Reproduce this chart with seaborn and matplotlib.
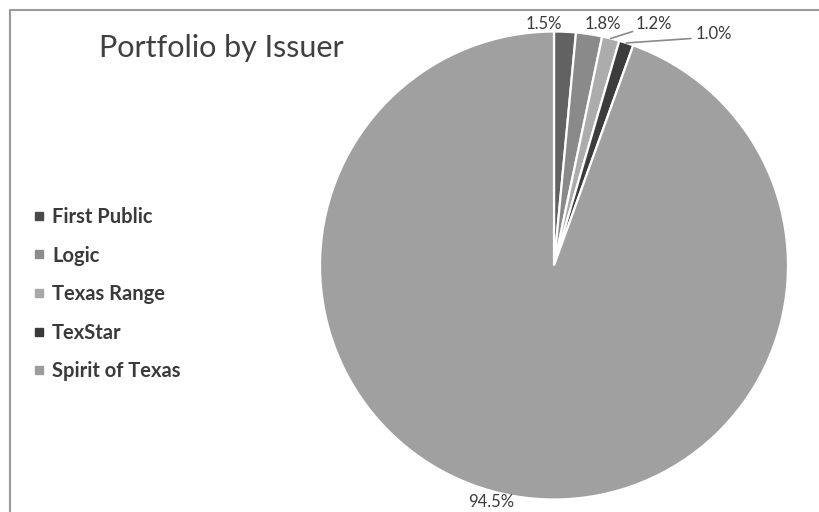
import matplotlib
matplotlib.use("Agg")
import matplotlib.pyplot as plt
from matplotlib.lines import Line2D
import seaborn as sns
import numpy as np

sns.set_theme(style="white")
plt.rcParams['font.family'] = ['Lato', 'DejaVu Sans']

categories = ["First Public", "Logic", "Texas Range", "TexStar", "Spirit of Texas"]
values = [1.5, 1.8, 1.2, 1.0, 94.5]
pct_labels = ["1.5%", "1.8%", "1.2%", "1.0%", "94.5%"]
colors = ["#626262", "#8a8a8a", "#acacac", "#3c3c3c", "#a0a0a0"]
legend_colors = ["#4a4a4a", "#8c8c8c", "#a8a8a8", "#3a3a3a", "#9c9c9c"]

fig = plt.figure(figsize=(8.19, 5.12), dpi=100)
fig.patch.set_facecolor("white")

cx, cy, r = 554, 265.5, 234
W, H = 819, 512
ax = fig.add_axes([(cx - r) / W, (H - cy - r) / H, 2 * r / W, 2 * r / H])
wedges, _ = ax.pie(values, colors=colors, startangle=90, counterclock=False,
                   wedgeprops=dict(edgecolor="white", linewidth=1.6), radius=1.0)
ax.set_xlim(-1, 1)
ax.set_ylim(-1, 1)
ax.set_aspect("auto")
ax.axis("off")

# data labels
label_pos = [(-0.043, 1.034), (0.207, 1.034), (0.427, 1.034), (0.681, 0.99), (-0.267, -1.012)]
leader_end = [None, None, (0.336, 1.0), (0.585, 0.97), None]
for w, txt, pos, le in zip(wedges, pct_labels, label_pos, leader_end):
    ax.text(pos[0], pos[1], txt, ha="center", va="center", fontsize=12,
            color="#3a3a3a", clip_on=False)
    if le is not None:
        mid = np.deg2rad((w.theta1 + w.theta2) / 2)
        ax.plot([np.cos(mid), le[0]], [np.sin(mid), le[1]], color="#8a8a8a",
                lw=1.2, clip_on=False)

# legend
handles = [Line2D([0], [0], marker="s", linestyle="none", markersize=6,
                  markerfacecolor=c, markeredgecolor=c) for c in legend_colors]
leg = fig.legend(handles, categories, loc="upper left",
                 bbox_to_anchor=(35 / W, 1 - 207 / H), frameon=False,
                 prop=dict(weight="bold", size=14.5), labelcolor="#3a3a3a",
                 handlelength=0.4, handletextpad=0.45, labelspacing=0.92,
                 borderaxespad=0, borderpad=0)

fig.text(221 / W, 1 - 48 / H, "Portfolio by Issuer", ha="center", va="center",
         fontsize=22, color="#404040")

# frame lines
fig.add_artist(Line2D([10 / W, 1.0], [1 - 10 / H, 1 - 10 / H], transform=fig.transFigure,
                      color="#9a9a9a", lw=1.5))
fig.add_artist(Line2D([10 / W, 10 / W], [0, 1 - 10 / H], transform=fig.transFigure,
                      color="#9a9a9a", lw=1.5))

fig.savefig("out.png", dpi=100, facecolor="white")
